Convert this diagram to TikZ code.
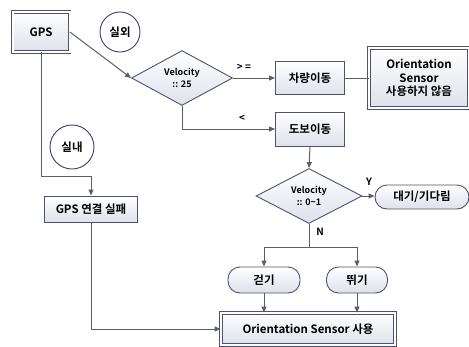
\documentclass[tikz,border=0pt]{standalone}
\usepackage{fontspec}
\setmainfont{Noto Sans CJK KR}[BoldFont={Noto Sans CJK KR Bold}]
\usetikzlibrary{shapes.geometric,arrows.meta}
\definecolor{linegray}{RGB}{95,95,95}
\definecolor{boxline}{RGB}{78,82,110}
\definecolor{boxfill}{RGB}{222,225,236}
\definecolor{ringline}{RGB}{58,62,105}
\tikzset{
  box/.style={rectangle,draw=boxline,line width=0.9pt,top color=white,bottom color=boxfill,
    inner sep=0pt,align=center,font=\fontsize{11.5}{13.5}\selectfont\bfseries},
  dbox/.style={box,double=white,double distance=2pt,line width=0.7pt},
  pill/.style={box,rounded corners=12pt},
  cond/.style={diamond,draw=boxline,line width=0.9pt,top color=white,bottom color=boxfill,
    inner sep=0pt,align=center,font=\fontsize{9}{12}\selectfont\bfseries},
  ring/.style={circle,draw=ringline,line width=0.9pt,fill=white,inner sep=0pt,
    font=\fontsize{11.5}{13}\selectfont\bfseries},
  tag/.style={inner sep=0pt,font=\fontsize{10}{11}\selectfont\bfseries},
  arr/.style={draw=linegray,line width=1pt,-{Triangle[length=6pt,width=5pt]}},
  ln/.style={draw=linegray,line width=1pt}
}
\begin{document}
\begin{tikzpicture}[x=1pt,y=-1pt]
		\useasboundingbox (0,0) rectangle (469,346);
		% Knoten
		\node (gps) at (41,32) [dbox,minimum width=57pt,minimum height=40pt] {GPS};
		\node (outdoor) at (120,32) [ring,minimum size=40pt] {실외};
		\node (indoor) at (72,147) [ring,minimum size=44pt] {실내};
		\node (d1) at (182,78) [cond,minimum width=101pt,minimum height=51pt] {Velocity\\:: 25};
		\node (car) at (310,78) [box,minimum width=69pt,minimum height=33pt] {차량이동};
		\node (nosensor) at (419,78) [dbox,minimum width=100pt,minimum height=60pt] {Orientation\\Sensor\\사용하지 않음};
		\node (walkmode) at (310,129) [box,minimum width=69pt,minimum height=34pt] {도보이동};
		\node (d2) at (309,196) [cond,minimum width=106pt,minimum height=49pt] {Velocity\\:: 0\textasciitilde1};
		\node (wait) at (422,197) [pill,minimum width=94pt,minimum height=24pt] {대기/기다림};
		\node (walk) at (264,280) [pill,minimum width=72pt,minimum height=26pt] {걷기};
		\node (run) at (357,280) [pill,minimum width=61pt,minimum height=26pt] {뛰기};
		\node (sensor) at (308,329) [dbox,minimum width=174pt,minimum height=32pt] {Orientation Sensor 사용};
		\node (gpsfail) at (91,209) [box,minimum width=93pt,minimum height=26pt] {GPS 연결 실패};
		\coordinate (bend) at (91,176);
		\coordinate (split) at (309,247);

		% Beschriftungen
		\node (ge) at (244,67) [tag] {> =};
		\node (lt) at (242,118) [tag] {<};
		\node (yes) at (369,182) [tag] {Y};
		\node (no) at (320,232) [tag] {N};

		% Kanten
		\draw[arr] (gps.east) -- (d1.west);
		\draw[arr] (d1.east) -- (car.west);
		\draw[ln] (car.east) -- (nosensor.west);
		\draw[arr] (d1.south) |- (walkmode.west);
		\draw[arr] (walkmode.south) -- (d2.north);
		\draw[arr] (d2.east) -- (d2.east -| wait.west);
		\draw[ln] (d2.south) -- (split);
		\draw[arr] (split) -| (walk.north);
		\draw[arr] (split) -| (run.north);
		\draw[arr] (walk.south) -- (walk.south |- sensor.north);
		\draw[arr] (run.south) -- (run.south |- sensor.north);
		\draw[arr] (gps.south) |- (bend) -- (gpsfail.north);
		\draw[arr] (gpsfail.south) |- (sensor.west);
	\end{tikzpicture}
\end{document}
